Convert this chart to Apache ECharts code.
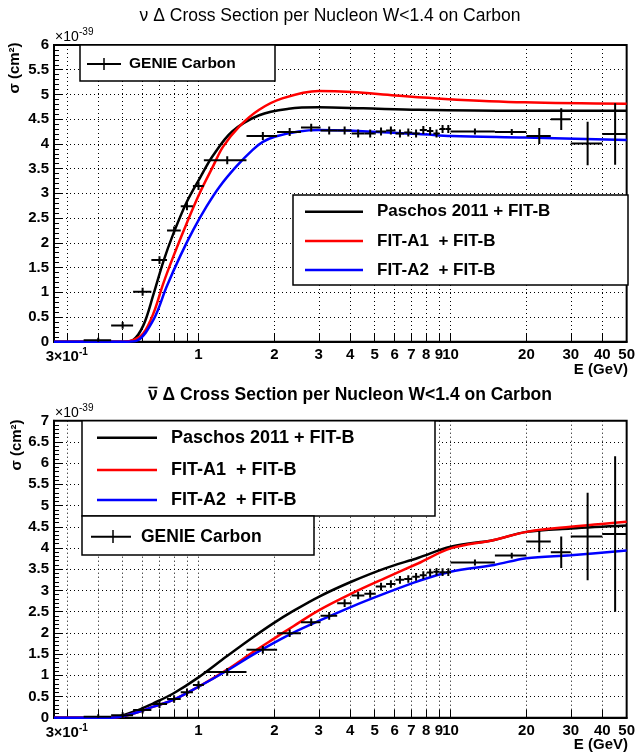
<!DOCTYPE html>
<html><head><meta charset="utf-8">
<script src="https://cdn.jsdelivr.net/npm/echarts@6/dist/echarts.min.js"></script>
<style>html,body{margin:0;padding:0;background:#fff}#c{width:638px;height:756px}</style>
</head><body><div id="c"></div>
<script>
// ---------- axes ----------
const xMin = 0.267, xMax = 50;
const xTickValues = [0.3,0.4,0.5,0.6,0.7,0.8,0.9,1,2,3,4,5,6,7,8,9,10,20,30,40,50];
const xLabelValues = [0.3,1,2,3,4,5,6,7,8,9,10,20,30,40,50];
const yTopMax = 6, yBotMax = 7, yInterval = 0.5;

// ---------- top panel: neutrino ----------
const nuPaschosE = [0.267,0.5,0.548,0.604,0.662,0.725,0.794,0.897,1.01,1.14,1.36,1.74,2.28,3.0,4.5,7.46,18.5,50];
const nuPaschosS = [0,0,0.03,0.33,0.95,1.62,2.18,2.82,3.30,3.76,4.25,4.58,4.71,4.74,4.72,4.69,4.67,4.67];
const nuA1E = [0.267,0.504,0.55,0.604,0.662,0.725,0.794,0.897,1.01,1.14,1.25,1.45,1.74,2.15,3.0,4.06,6.03,9.49,19.7,50];
const nuA1S = [0,0,0.03,0.17,0.57,1.18,1.72,2.39,3.00,3.54,3.94,4.35,4.69,4.92,5.07,5.05,4.98,4.91,4.84,4.81];
const nuA2E = [0.267,0.52,0.569,0.662,0.747,0.844,0.953,1.075,1.21,1.41,1.64,1.80,2.02,2.5,3.0,7.46,10.1,19.7,50];
const nuA2S = [0,0,0.02,0.44,1.11,1.72,2.26,2.73,3.13,3.54,3.88,4.04,4.15,4.25,4.28,4.20,4.16,4.13,4.08];
const nuGenieE  = [0.4,0.5,0.6,0.7,0.8,0.9,1.0,1.3,1.8,2.3,2.8,3.3,3.8,4.3,4.8,5.3,5.8,6.3,6.8,7.3,7.8,8.3,8.8,9.3,9.8,12.5,17.5,22.5,27.5,35,45];
const nuGenieEx = [0.05,0.05,0.05,0.05,0.05,0.05,0.05,0.25,0.25,0.25,0.25,0.25,0.25,0.25,0.25,0.25,0.25,0.25,0.25,0.25,0.25,0.25,0.25,0.25,0.25,2.5,2.5,2.5,2.5,5,5];
const nuGenieS  = [0.03,0.33,1.01,1.65,2.25,2.74,3.15,3.67,4.16,4.24,4.33,4.27,4.27,4.21,4.21,4.25,4.27,4.21,4.23,4.21,4.28,4.26,4.21,4.30,4.30,4.25,4.24,4.16,4.50,4.01,4.20];
const nuGenieSy = [0.05,0.07,0.08,0.08,0.08,0.08,0.08,0.08,0.08,0.08,0.08,0.08,0.08,0.08,0.08,0.08,0.08,0.08,0.08,0.08,0.08,0.08,0.08,0.08,0.08,0.06,0.06,0.16,0.22,0.44,0.62];

// ---------- bottom panel: antineutrino ----------
const anuCurveE   = [0.267,0.45,0.552,0.662,0.794,1.0,1.29,1.64,2.0,2.37,3.0,4.06,5.5,7.46,10,14.9,20,30,50];
const anuPaschosS = [0,0,0.14,0.34,0.57,0.95,1.44,1.89,2.24,2.51,2.85,3.21,3.52,3.77,4.03,4.19,4.38,4.46,4.53];
const anuA1S      = [0,0,0.10,0.26,0.42,0.73,1.12,1.54,1.87,2.15,2.53,2.93,3.29,3.64,3.99,4.19,4.38,4.50,4.62];
const anuA2S      = [0,0,0.10,0.26,0.42,0.73,1.10,1.48,1.77,2.00,2.28,2.62,2.93,3.22,3.44,3.60,3.76,3.83,3.94];
const anuGenieE  = [0.4,0.5,0.6,0.7,0.8,0.9,1.0,1.3,1.8,2.3,2.8,3.3,3.8,4.3,4.8,5.3,5.8,6.3,6.8,7.3,7.8,8.3,8.8,9.3,9.8,12.5,17.5,22.5,27.5,35,45];
const anuGenieEx = [0.05,0.05,0.05,0.05,0.05,0.05,0.05,0.25,0.25,0.25,0.25,0.25,0.25,0.25,0.25,0.25,0.25,0.25,0.25,0.25,0.25,0.25,0.25,0.25,0.25,2.5,2.5,2.5,2.5,5,5];
const anuGenieS  = [0.02,0.06,0.18,0.32,0.44,0.60,0.77,1.08,1.60,1.99,2.25,2.40,2.70,2.88,2.92,3.09,3.15,3.25,3.27,3.32,3.36,3.42,3.44,3.43,3.43,3.66,3.82,4.15,3.90,4.27,4.33];
const anuGenieSy = [0.06,0.07,0.08,0.09,0.09,0.09,0.09,0.09,0.09,0.09,0.09,0.09,0.09,0.09,0.09,0.09,0.09,0.09,0.09,0.09,0.09,0.09,0.09,0.09,0.09,0.07,0.07,0.25,0.37,1.03,1.83];

const FONT = '"Liberation Sans", Arial, Helvetica, sans-serif';

function xAxisDef(gi) {
  return {
    type: 'log', logBase: 10, gridIndex: gi, min: xMin, max: xMax,
    axisLine: { show: true, lineStyle: { color: '#000', width: 2 } },
    axisTick: { show: true, inside: true, length: 8, customValues: xTickValues, lineStyle: { color: '#000', width: 1 } },
    axisLabel: {
      show: true, customValues: xLabelValues, margin: 6, color: '#000',
      fontFamily: FONT, fontWeight: 'bold', fontSize: 15,
      formatter: v => Math.abs(v - 0.3) < 1e-6 ? '{m|3}{x|×}{m|10}{s|-1}' : String(Math.round(v)),
      rich: {
        m: { fontFamily: FONT, fontWeight: 'bold', fontSize: 15, lineHeight: 18, color: '#000' },
        x: { fontFamily: FONT, fontSize: 14, lineHeight: 18, color: '#000' },
        s: { fontFamily: FONT, fontWeight: 'bold', fontSize: 10, lineHeight: 10, verticalAlign: 'top', color: '#000' }
      }
    },
    splitLine: { show: true, lineStyle: { color: '#000', type: [1, 3], width: 1 } },
    minorTick: { show: false }
  };
}
function yAxisDef(gi, max) {
  return {
    type: 'value', gridIndex: gi, min: 0, max: max, interval: yInterval,
    axisLine: { show: true, lineStyle: { color: '#000', width: 2 } },
    axisTick: { show: true, inside: true, length: 9, lineStyle: { color: '#000', width: 1 } },
    minorTick: { show: true, splitNumber: 5, length: 5, lineStyle: { color: '#000', width: 1 } },
    axisLabel: { margin: 5, color: '#000', fontFamily: FONT, fontWeight: 'bold', fontSize: 15 },
    splitLine: { show: true, lineStyle: { color: '#000', type: [1, 3], width: 1 } }
  };
}
function curve(gi, E, S, color) {
  return {
    type: 'line', xAxisIndex: gi, yAxisIndex: gi, data: E.map((e, i) => [e, S[i]]),
    showSymbol: false, smooth: 0.35, z: 3,
    lineStyle: { color: color, width: 2.5 }, itemStyle: { color: color }
  };
}
function genie(gi, E, Ex, S, Sy) {
  return {
    type: 'custom', xAxisIndex: gi, yAxisIndex: gi, z: 5, clip: true,
    data: E.map((e, i) => [e, S[i], e - Ex[i], e + Ex[i], S[i] - Sy[i], S[i] + Sy[i]]),
    encode: { x: [0, 2, 3], y: [1, 4, 5] },
    renderItem: (params, api) => {
      const c = api.coord([api.value(0), api.value(1)]);
      const l = api.coord([api.value(2), api.value(1)]);
      const r = api.coord([api.value(3), api.value(1)]);
      const lo = api.coord([api.value(0), api.value(4)]);
      const hi = api.coord([api.value(0), api.value(5)]);
      return { type: 'group', children: [
        { type: 'line', shape: { x1: l[0], y1: c[1], x2: r[0], y2: c[1] }, style: { stroke: '#000', lineWidth: 2 } },
        { type: 'line', shape: { x1: c[0], y1: lo[1], x2: c[0], y2: hi[1] }, style: { stroke: '#000', lineWidth: 2 } }
      ]};
    }
  };
}
function txt(x, y, text, font, align, extra) {
  return Object.assign({ type: 'text', x: x, y: y, z: 100,
    style: { text: text, font: font, fill: '#000', align: align || 'left', textAlign: align || 'left', verticalAlign: 'middle', textVerticalAlign: 'middle' } }, extra || {});
}
function box(x, y, w, h) {
  return { type: 'rect', z: 90, shape: { x: x, y: y, width: w, height: h }, style: { fill: '#fff', stroke: '#000', lineWidth: 1.5 } };
}
function hline(x1, x2, y, color, w) {
  return { type: 'line', z: 95, shape: { x1: x1, y1: y, x2: x2, y2: y }, style: { stroke: color, lineWidth: w || 2.5 } };
}
function vline(x, y1, y2) {
  return { type: 'line', z: 95, shape: { x1: x, y1: y1, x2: x, y2: y2 }, style: { stroke: '#000', lineWidth: 1.5 } };
}

const graphics = [
  // titles
  txt(330, 16, 'ν Δ Cross Section per Nucleon W<1.4 on Carbon', '17.5px ' + FONT, 'center'),
  txt(148, 395, 'ν Δ Cross Section per Nucleon W<1.4 on Carbon', 'bold 17.5px ' + FONT, 'left'),
  { type: 'line', z: 100, shape: { x1: 148.5, y1: 387.5, x2: 157.5, y2: 387.5 }, style: { stroke: '#000', lineWidth: 1.5 } },
  // exponent labels
  txt(55, 37, '×10', '14px ' + FONT, 'left'),
  txt(79, 32, '-39', '10px ' + FONT, 'left'),
  txt(55, 413, '×10', '14px ' + FONT, 'left'),
  txt(79, 408, '-39', '10px ' + FONT, 'left'),
  // y names
  txt(15, 68, 'σ (cm²)', 'bold 15px ' + FONT, 'center', { rotation: Math.PI / 2 }),
  txt(17, 445, 'σ (cm²)', 'bold 15px ' + FONT, 'center', { rotation: Math.PI / 2 }),
  // x names
  txt(628, 370, 'E (GeV)', 'bold 15px ' + FONT, 'right'),
  txt(628, 745, 'E (GeV)', 'bold 15px ' + FONT, 'right'),
  // top legends
  box(80, 45, 195, 36),
  hline(87, 121, 64, '#000', 2), vline(104, 58, 70),
  txt(129, 64, 'GENIE Carbon', 'bold 15.5px ' + FONT, 'left'),
  box(293, 195, 335, 90),
  hline(305, 363, 211.7, '#000'), txt(377, 211.7, 'Paschos 2011 + FIT-B', 'bold 17px ' + FONT, 'left'),
  hline(305, 363, 241, '#ff0000'), txt(377, 241, 'FIT-A1  + FIT-B', 'bold 17px ' + FONT, 'left'),
  hline(305, 363, 270, '#0000ff'), txt(377, 270, 'FIT-A2  + FIT-B', 'bold 17px ' + FONT, 'left'),
  // bottom legends
  box(82, 420.7, 353, 95.3),
  hline(97, 157, 437.7, '#000'), txt(171, 437.7, 'Paschos 2011 + FIT-B', 'bold 18px ' + FONT, 'left'),
  hline(97, 157, 470, '#ff0000'), txt(171, 470, 'FIT-A1  + FIT-B', 'bold 18px ' + FONT, 'left'),
  hline(97, 157, 500, '#0000ff'), txt(171, 500, 'FIT-A2  + FIT-B', 'bold 18px ' + FONT, 'left'),
  box(82, 516, 232, 39),
  hline(91, 131, 536.7, '#000', 2), vline(113, 530, 543),
  txt(141, 536.7, 'GENIE Carbon', 'bold 17.5px ' + FONT, 'left')
];

const chart = echarts.init(document.getElementById('c'), null, { renderer: 'canvas' });
chart.setOption({
  backgroundColor: '#fff',
  animation: false,
  grid: [
    { left: 54, top: 45, width: 574, height: 296.7, show: true, borderColor: '#000', borderWidth: 2, backgroundColor: 'transparent' },
    { left: 54, top: 420.7, width: 574, height: 297, show: true, borderColor: '#000', borderWidth: 2, backgroundColor: 'transparent' }
  ],
  xAxis: [xAxisDef(0), xAxisDef(1)],
  yAxis: [yAxisDef(0, yTopMax), yAxisDef(1, yBotMax)],
  series: [
    curve(0, nuPaschosE, nuPaschosS, '#000000'),
    curve(0, nuA1E, nuA1S, '#ff0000'),
    curve(0, nuA2E, nuA2S, '#0000ff'),
    genie(0, nuGenieE, nuGenieEx, nuGenieS, nuGenieSy),
    curve(1, anuCurveE, anuPaschosS, '#000000'),
    curve(1, anuCurveE, anuA1S, '#ff0000'),
    curve(1, anuCurveE, anuA2S, '#0000ff'),
    genie(1, anuGenieE, anuGenieEx, anuGenieS, anuGenieSy)
  ],
  graphic: graphics
});
</script></body></html>
